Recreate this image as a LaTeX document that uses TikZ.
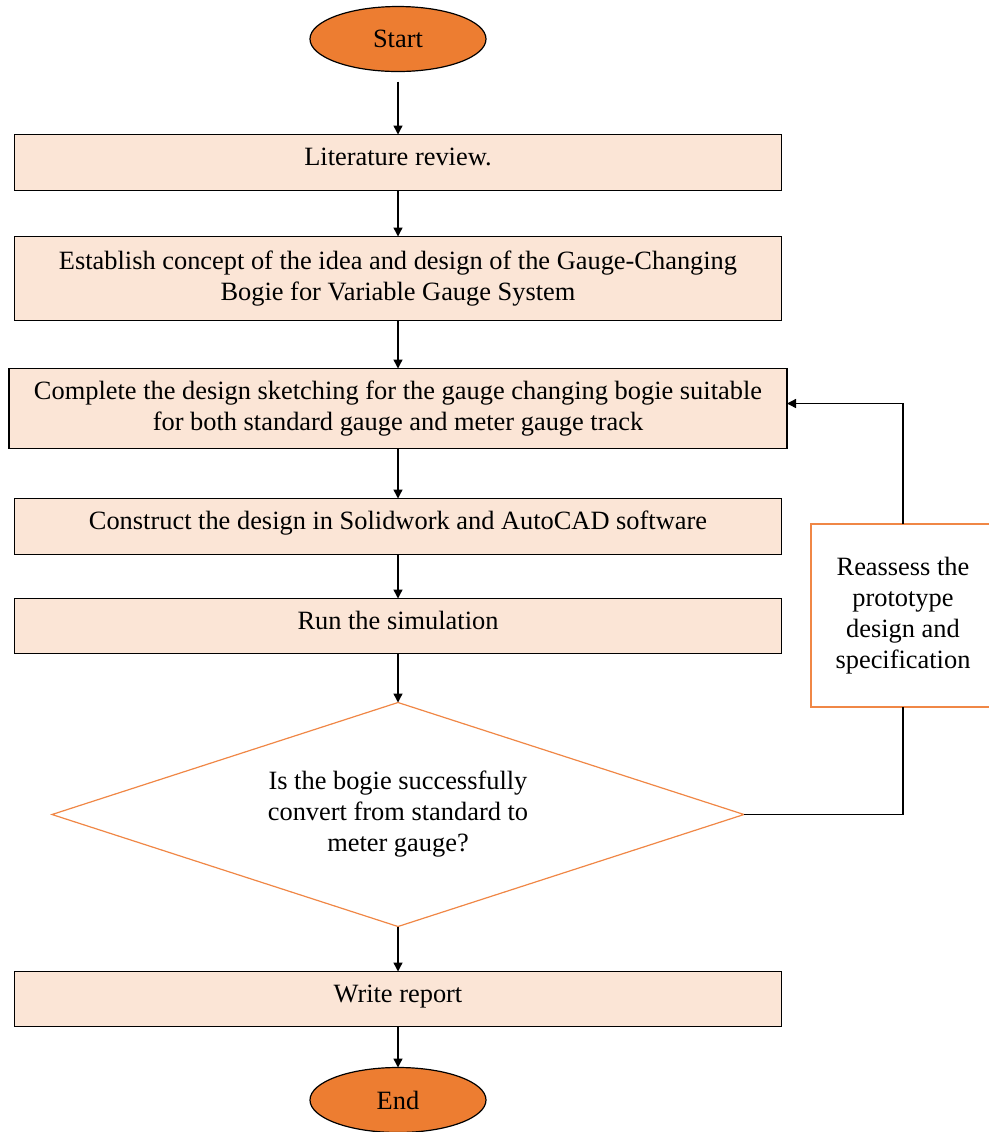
\documentclass[tikz,border=0pt]{standalone}
\usepackage{fontspec}
\setmainfont{Liberation Serif}
\usetikzlibrary{positioning,arrows.meta,shapes.geometric}
\definecolor{BoxPeach}{RGB}{251,229,214}
\definecolor{TermOrange}{RGB}{237,125,49}
\definecolor{EdgeOrange}{RGB}{240,135,70}
\tikzset{
  flow/.style={-{Triangle[length=4.5pt,width=4.5pt]},line width=0.7pt,draw=black},
  loopline/.style={line width=0.7pt,draw=black},
  terminal/.style={ellipse,draw=black,fill=TermOrange,line width=0.6pt,
    minimum width=88pt,minimum height=32.5pt,inner sep=0pt,outer sep=0pt},
  box/.style={draw=black,fill=BoxPeach,line width=0.9pt,
    minimum width=383.5pt,align=center,inner sep=0pt,outer sep=0pt},
  onebox/.style={box,text height=9pt,text depth=6pt,minimum height=28pt},
  decision/.style={diamond,draw=EdgeOrange,fill=white,line width=0.6pt,
    minimum width=346pt,minimum height=112pt,shape aspect=3.09,align=center,
    inner sep=0pt,outer sep=0pt},
  notebox/.style={draw=EdgeOrange,fill=white,line width=0.8pt,
    minimum width=92pt,minimum height=91.5pt,align=center,outer sep=0pt}
}

\begin{document}
\begin{tikzpicture}[font=\fontsize{13.2}{15.5}\selectfont]
  \useasboundingbox (0,0) rectangle (494.5pt,-566pt);
  \node[terminal] (start) at (199pt,-19.5pt) {Start};
  \node[onebox,below=31.5pt of start] (lit) {Literature review.};
  \node[box,below=23pt of lit,minimum height=42pt] (concept) {Establish concept of the idea and design of the Gauge-Changing\\Bogie for Variable Gauge System};
  \node[box,below=24pt of concept,minimum width=389pt,minimum height=40pt] (sketch) {Complete the design sketching for the gauge changing bogie suitable\\for both standard gauge and meter gauge track};
  \node[onebox,below=25pt of sketch] (construct) {Construct the design in Solidwork and AutoCAD software};
  \node[onebox,below=22pt of construct,minimum height=27.5pt] (simul) {Run the simulation};
  \node[decision,below=24.5pt of simul] (check) {Is the bogie successfully\\convert from standard to\\meter gauge?};
  \node[onebox,below=22.5pt of check,minimum height=27.5pt] (report) {Write report};
  \node[terminal,below=20.5pt of report] (finish) {End};
  \node[notebox] (reassess) at (451.5pt,-307.75pt) {Reassess the\\prototype\\design and\\specification};
  \draw[flow,shorten <=5pt] (start) -- (lit);
  \draw[flow] (lit) -- (concept);
  \draw[flow] (concept) -- (sketch);
  \draw[flow] (sketch) -- (construct);
  \draw[flow] (construct) -- (simul);
  \draw[flow] (simul) -- (check);
  \draw[flow] (check) -- (report);
  \draw[flow] (report) -- (finish);
  \draw[loopline] (check.east) -| (reassess.south);
  \draw[flow] (reassess.north) |- ([yshift=2.5pt]sketch.east);
\end{tikzpicture}
\end{document}
